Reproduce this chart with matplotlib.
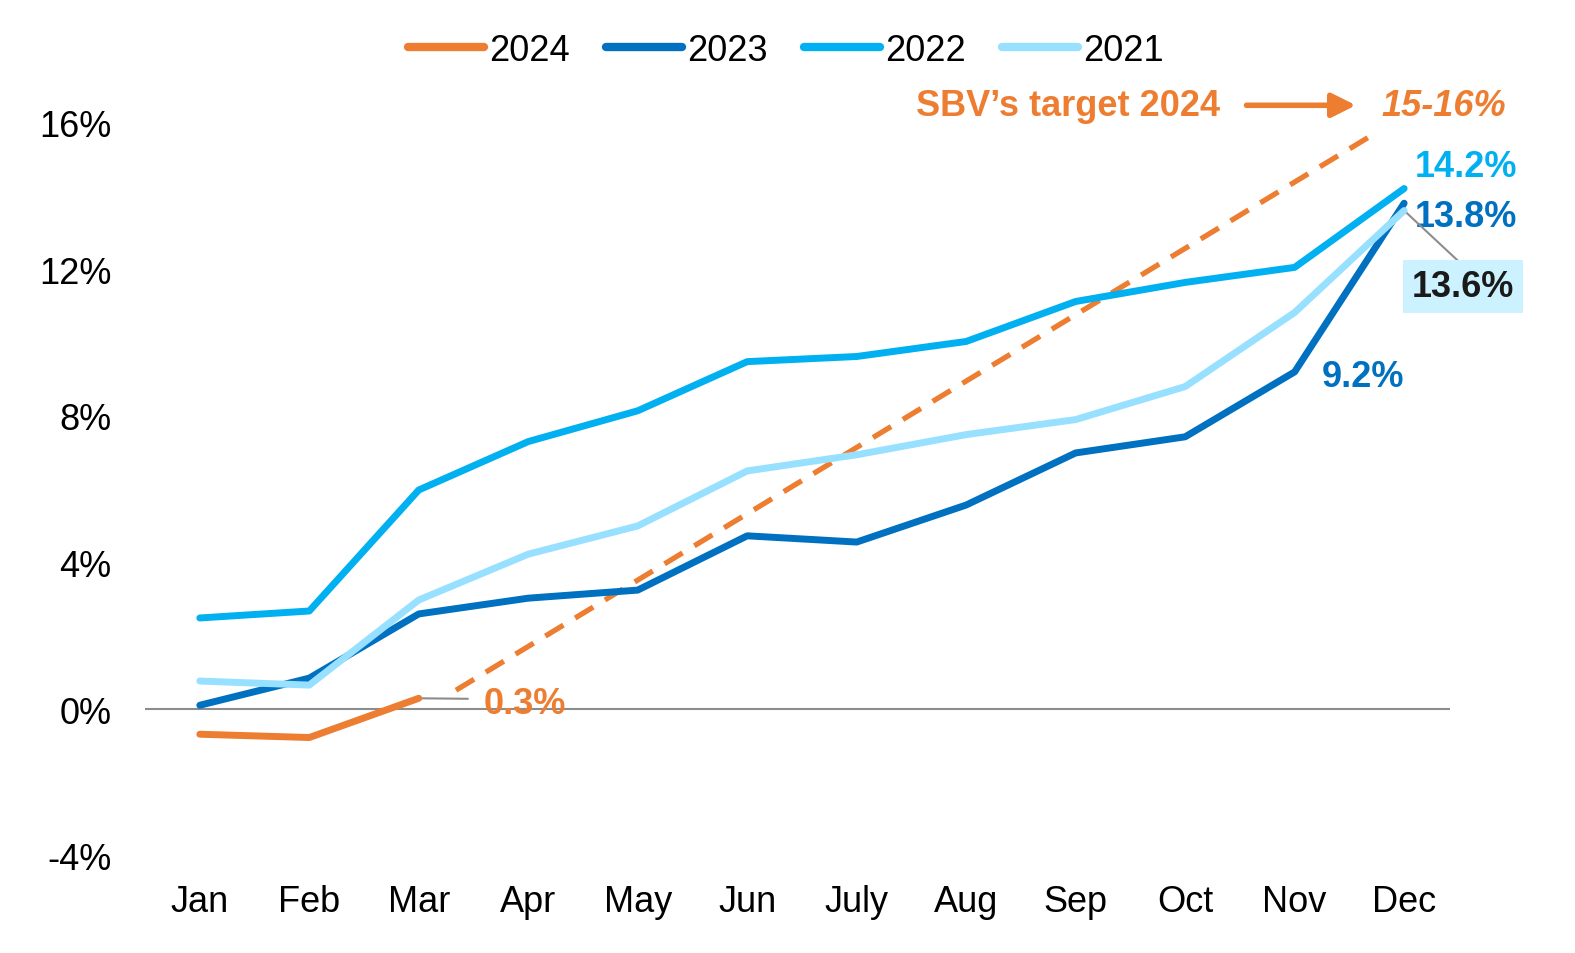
"""Credit growth YTD by month, 2021-2024, with SBV 2024 target."""

import matplotlib
matplotlib.use("Agg")
import matplotlib.pyplot as plt
from matplotlib.lines import Line2D

months = ["Jan", "Feb", "Mar", "Apr", "May", "Jun", "July", "Aug", "Sep", "Oct", "Nov", "Dec"]

g2021 = [0.77, 0.66, 2.98, 4.23, 5.0, 6.5, 6.94, 7.49, 7.9, 8.8, 10.82, 13.6]
g2022 = [2.49, 2.68, 5.98, 7.3, 8.14, 9.48, 9.62, 10.03, 11.12, 11.64, 12.05, 14.2]
g2023 = [0.11, 0.85, 2.6, 3.03, 3.25, 4.73, 4.56, 5.57, 6.99, 7.43, 9.2, 13.8]
g2024 = [-0.68, -0.77, 0.3]

# dashed path toward the 15-16% target
target_x = [2.34, 10.77]
target_y = [0.52, 15.77]

yticks = [-4, 0, 4, 8, 12, 16]

C24 = "#ED7D31"
C23 = "#0070C0"
C22 = "#00B0F0"
C21 = "#97E0FF"
GREY = "#8C8C8C"

plt.rcParams["font.family"] = ["Liberation Sans", "DejaVu Sans"]

fig = plt.figure(figsize=(15.75, 9.54), dpi=100)
ax = fig.add_axes([0.0921, 0.1017, 0.8286, 0.8457])

x = list(range(len(months)))
lw = 5
kw = dict(lw=lw, solid_capstyle="round", solid_joinstyle="round")

ax.axhline(0, color=GREY, lw=1.5, zorder=1)
ax.plot(target_x, target_y, color=C24, lw=3.8, dashes=(4, 2.6), zorder=2)
ax.plot(x, g2023, color=C23, zorder=3, **kw)
ax.plot(x, g2021, color=C21, zorder=4, **kw)
ax.plot(x, g2022, color=C22, zorder=5, **kw)
ax.plot(x[:len(g2024)], g2024, color=C24, zorder=6, **kw)

ax.set_xlim(-0.5, 11.42)
ax.set_ylim(-4, 18)
ax.set_xticks(x)
ax.set_xticklabels(months)
ax.set_yticks(yticks)
ax.set_yticklabels([f"{v}%" for v in yticks])
ax.tick_params(axis="both", length=0, labelsize=26)
ax.tick_params(axis="y", pad=24)
ax.tick_params(axis="x", pad=20)
for s in ax.spines.values():
    s.set_visible(False)

# legend
handles = [Line2D([], [], color=c, lw=6, solid_capstyle="round") for c in (C24, C23, C22, C21)]
fig.legend(handles, ["2024", "2023", "2022", "2021"], loc="center",
           bbox_to_anchor=(0.499, 0.946), ncol=4, frameon=False, fontsize=26,
           handlelength=2.1, handletextpad=0.15, columnspacing=1.0)

bold = dict(fontsize=26, fontweight="bold", ha="center", va="center")

# end-of-year labels
ax.annotate("14.2%", (11, g2022[11]), xytext=(44.6, 16), textcoords="offset points",
            color=C22, **bold)
ax.annotate("13.8%", (11, g2023[11]), xytext=(44.6, -9.5), textcoords="offset points",
            color=C23, **bold)
ax.annotate("13.6%", (11, g2021[11]), xytext=(42.5, -55), textcoords="offset points",
            color="#1A1A1A",
            bbox=dict(boxstyle="square,pad=0.25", fc="#CCF2FF", ec="none"),
            arrowprops=dict(arrowstyle="-", color=GREY, lw=1.5, shrinkA=0, shrinkB=0,
                            relpos=(0.54, 1.0)),
            **bold)
ax.annotate("9.2%", (10, g2023[10]), xytext=(49, -3), textcoords="offset points",
            color=C23, **bold)
ax.annotate("0.3%", (2, g2024[2]), xytext=(76, -3.5), textcoords="offset points",
            color=C24,
            arrowprops=dict(arrowstyle="-", color=GREY, lw=1.5, shrinkA=9, shrinkB=1,
                            relpos=(0.0, 0.62)),
            **bold)

# SBV target
ax.text(7.93, 16.47, "SBV\u2019s target 2024", color=C24, **bold)
ax.annotate("", xy=(10.56, 16.47), xytext=(9.56, 16.47),
            arrowprops=dict(arrowstyle="-|>", color=C24, lw=4, mutation_scale=36,
                            shrinkA=0, shrinkB=0))
ax.text(11.36, 16.47, "15-16%", color=C24, fontstyle="italic", **bold)

fig.savefig("out.png", dpi=100)
